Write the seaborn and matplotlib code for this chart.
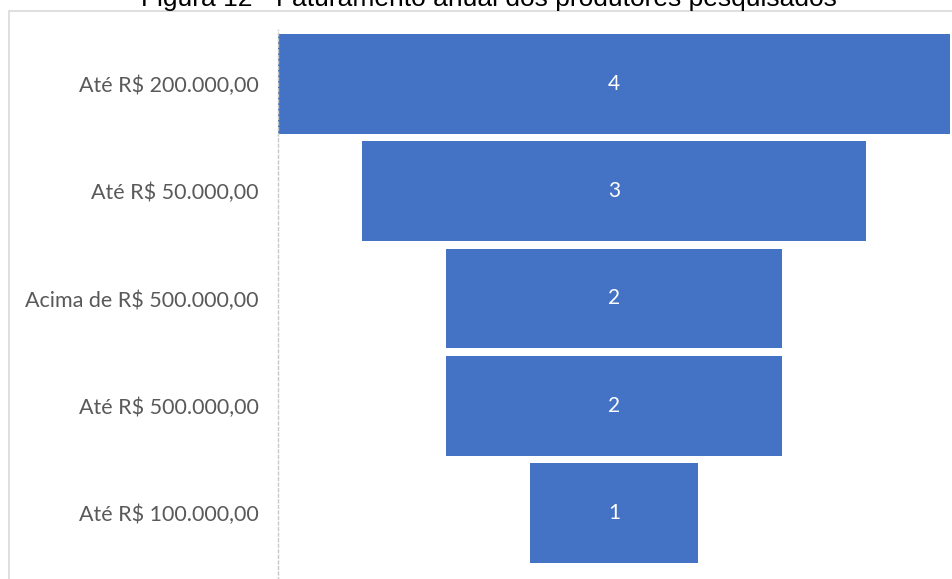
import matplotlib
matplotlib.use("Agg")
import matplotlib.pyplot as plt
import seaborn as sns
import pandas as pd
from matplotlib.patches import Rectangle

# Annual revenue bands and number of producers in each
categorias = [
    "Até R$ 200.000,00",
    "Até R$ 50.000,00",
    "Acima de R$ 500.000,00",
    "Até R$ 500.000,00",
    "Até R$ 100.000,00",
]
produtores = [4, 3, 2, 2, 1]
titulo = "Figura 12 - Faturamento anual dos produtores pesquisados"

sns.set_theme(style="white")
plt.rcParams["font.family"] = ["Lato", "DejaVu Sans"]

df = pd.DataFrame({"faixa": categorias, "n": produtores})

W, H = 953, 579
fig = plt.figure(figsize=(W / 100, H / 100), dpi=100)
ax = fig.add_axes([278 / W, 1 - 567 / H, 672 / W, (567 - 30) / H])

sns.barplot(data=df, y="faixa", x="n", orient="h", color="#4472C4",
            saturation=1, width=0.93, errorbar=None, linewidth=0, ax=ax)

# Funnel layout: centre every bar on zero
for p in ax.patches:
    p.set_x(-p.get_width() / 2)
vmax = max(produtores)
ax.set_xlim(-vmax / 2, vmax / 2)
ax.set_ylim(len(categorias) - 0.5, -0.5)

ax.bar_label(ax.containers[0], label_type="center", color="white", fontsize=15)

ax.set_xlabel("")
ax.set_ylabel("")
ax.set_xticks([])
ax.tick_params(axis="y", length=0, pad=14, labelsize=15.5, labelcolor="#595959")
for side in ("top", "right", "bottom"):
    ax.spines[side].set_visible(False)
ax.spines["left"].set_color("#C8C8C8")
ax.spines["left"].set_linewidth(1)
ax.spines["left"].set_linestyle((0, (2, 2)))
ax.spines["left"].set_bounds(len(categorias) + 0.05, -0.5)

# Chart-area border
fig.add_artist(Rectangle((9 / W, -0.05), 1.0, 1 - 11 / H + 0.05,
                         transform=fig.transFigure, fill=False,
                         edgecolor="#D9D9D9", linewidth=1.2))

fig.text(489 / W, 1 - 6 / H, titulo, ha="center", va="baseline",
         family=["Liberation Sans", "DejaVu Sans"], fontsize=19, color="black")

fig.savefig("out.png", dpi=100)
